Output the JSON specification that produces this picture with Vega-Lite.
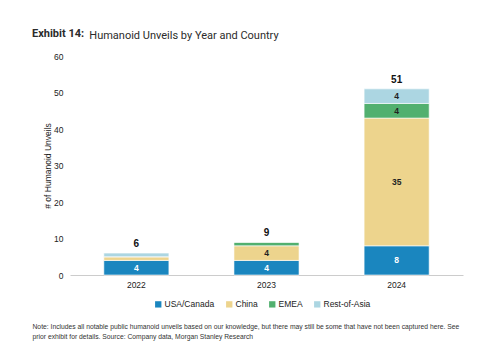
{
  "$schema": "https://vega.github.io/schema/vega-lite/v6.json",
  "width": 393,
  "height": 219,
  "autosize": "none",
  "padding": {"left": 70, "top": 56, "right": 23, "bottom": 74},
  "background": "white",
  "config": {
    "view": {"stroke": null},
    "axisY": {
      "labelOverlap": false,
      "tickCount": 7,
      "grid": false,
      "domain": false,
      "ticks": false,
      "labelFont": "Liberation Sans",
      "labelFontSize": 8.5,
      "labelColor": "#222",
      "labelPadding": 7,
      "titleFont": "Liberation Sans",
      "titleFontSize": 8.5,
      "titleFontWeight": "normal",
      "titleColor": "#222",
      "titlePadding": 1
    }
  },
  "title": {
    "text": "Exhibit 14:",
    "subtitle": "\u200b\u00a0\u00a0\u00a0\u00a0\u00a0\u00a0\u00a0\u00a0\u00a0\u00a0\u00a0\u00a0\u00a0\u00a0\u00a0\u00a0\u00a0\u00a0\u00a0\u00a0\u00a0Humanoid Unveils by Year and Country",
    "anchor": "start",
    "frame": "group",
    "dx": -38,
    "offset": 11,
    "font": "Roboto",
    "fontSize": 11,
    "fontWeight": "bold",
    "color": "#2b2b2b",
    "subtitleFont": "Roboto",
    "subtitleFontSize": 11,
    "subtitleColor": "#2b2b2b",
    "subtitlePadding": -9
  },
  "data": {
    "values": [
      {"year": "2022", "region": "USA/Canada", "value": 4},
      {"year": "2022", "region": "China", "value": 1},
      {"year": "2022", "region": "EMEA", "value": 0},
      {"year": "2022", "region": "Rest-of-Asia", "value": 1},
      {"year": "2023", "region": "USA/Canada", "value": 4},
      {"year": "2023", "region": "China", "value": 4},
      {"year": "2023", "region": "EMEA", "value": 1},
      {"year": "2023", "region": "Rest-of-Asia", "value": 0},
      {"year": "2024", "region": "USA/Canada", "value": 8},
      {"year": "2024", "region": "China", "value": 35},
      {"year": "2024", "region": "EMEA", "value": 4},
      {"year": "2024", "region": "Rest-of-Asia", "value": 4}
    ]
  },
  "transform": [
    {"calculate": "indexof(['USA/Canada','China','EMEA','Rest-of-Asia'], datum.region)", "as": "ord"}
  ],
  "encoding": {
    "x": {
      "field": "year",
      "type": "nominal",
      "scale": {"paddingInner": 0.5, "paddingOuter": 0.26},
      "axis": {
        "labelAngle": 0,
        "labelFont": "Liberation Sans",
        "labelFontSize": 8.5,
        "labelColor": "#222",
        "labelPadding": 5,
        "ticks": false,
        "domainColor": "#cccccc",
        "domainWidth": 1,
        "title": [
          "Note: Includes all notable public humanoid unveils based on our knowledge, but there may still be some that have not been captured here. See",
          "prior exhibit for details. Source: Company data, Morgan Stanley Research"
        ],
        "titleFont": "Liberation Sans",
        "titleFontSize": 6.75,
        "titleFontWeight": "normal",
        "titleColor": "#333",
        "titleX": -38,
        "titleY": 48,
        "titleAlign": "left",
        "titleAnchor": "start",
        "titleBaseline": "top",
        "titleLineHeight": 10
      }
    }
  },
  "layer": [
    {
      "mark": {"type": "bar", "stroke": "white", "strokeWidth": 0.6},
      "encoding": {
        "y": {
          "field": "value",
          "type": "quantitative",
          "stack": "zero",
          "scale": {"domain": [0, 60]},
          "axis": {"values": [0, 10, 20, 30, 40, 50, 60], "title": "# of Humanoid Unveils"}
        },
        "color": {
          "field": "region",
          "type": "nominal",
          "scale": {
            "domain": ["USA/Canada", "China", "EMEA", "Rest-of-Asia"],
            "range": ["#1a86bf", "#edd48d", "#52b06f", "#acd6e2"]
          },
          "legend": {
            "orient": "none",
            "legendX": 84,
            "legendY": 244,
            "direction": "horizontal",
            "title": null,
            "symbolType": "square",
            "symbolSize": 40,
            "symbolStrokeWidth": 0,
            "labelFont": "Liberation Sans",
            "labelFontSize": 8.5,
            "labelColor": "#222",
            "labelOffset": 2,
            "columnPadding": 10
          }
        },
        "order": {"field": "ord", "type": "quantitative"}
      }
    },
    {
      "transform": [
        {"stack": "value", "groupby": ["year"], "sort": [{"field": "ord", "order": "ascending"}], "as": ["y0", "y1"]},
        {"calculate": "(datum.y0 + datum.y1) / 2", "as": "mid"},
        {"filter": "datum.value >= 2"}
      ],
      "mark": {"type": "text", "font": "Liberation Sans", "fontSize": 8.5, "fontWeight": "bold"},
      "encoding": {
        "y": {"field": "mid", "type": "quantitative", "axis": {"values": [0, 10, 20, 30, 40, 50, 60], "title": "# of Humanoid Unveils"}},
        "text": {"field": "value", "type": "quantitative"},
        "color": {
          "condition": {"test": "datum.region === 'USA/Canada'", "value": "white"},
          "value": "#222"
        }
      }
    },
    {
      "transform": [
        {"aggregate": [{"op": "sum", "field": "value", "as": "total"}], "groupby": ["year"]}
      ],
      "mark": {"type": "text", "font": "Liberation Sans", "fontSize": 10, "fontWeight": "bold", "dy": -9, "color": "#111"},
      "encoding": {
        "y": {"field": "total", "type": "quantitative", "axis": {"values": [0, 10, 20, 30, 40, 50, 60], "title": "# of Humanoid Unveils"}},
        "text": {"field": "total", "type": "quantitative"}
      }
    }
  ]
}
